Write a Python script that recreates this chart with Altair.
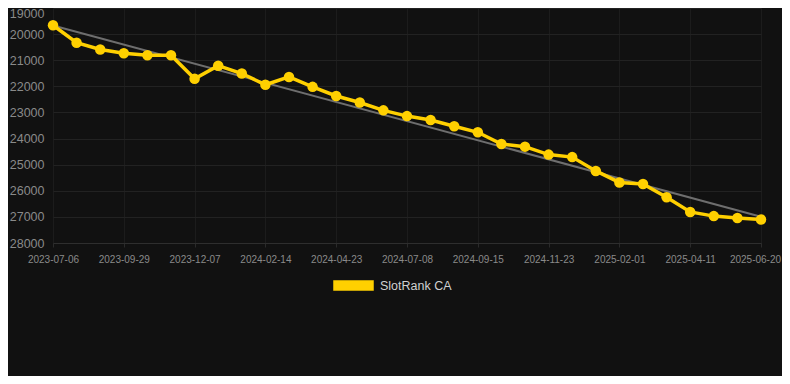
import altair as alt
import pandas as pd

dates = [
    "2023-07-06", "2023-08-03", "2023-09-01", "2023-09-29", "2023-10-22", "2023-11-14",
    "2023-12-07", "2023-12-30", "2024-01-22", "2024-02-14", "2024-03-08", "2024-03-31",
    "2024-04-23", "2024-05-18", "2024-06-12", "2024-07-08", "2024-07-31", "2024-08-23",
    "2024-09-15", "2024-10-11", "2024-10-28", "2024-11-23", "2024-12-16", "2025-01-08",
    "2025-02-01", "2025-02-24", "2025-03-19", "2025-04-11", "2025-05-04", "2025-05-27",
    "2025-06-20",
]
ranks = [
    19660, 20330, 20590, 20730, 20810, 20810,
    21710, 21210, 21510, 21940, 21640, 22020,
    22370, 22620, 22920, 23140, 23290, 23530,
    23760, 24210, 24310, 24615, 24710, 25240,
    25680, 25740, 26250, 26810, 26970, 27040,
    27100,
]
label_dates = dates[::3]
y_ticks = list(range(19000, 28001, 1000))
series_name = "SlotRank CA"

df = pd.DataFrame({"date": dates, "rank": ranks, "i": list(range(len(dates))), "series": series_name})

FONT = "Liberation Sans"
GOLD = "#FFD000"

y_scale = alt.Scale(domain=[19000, 28000], reverse=True, nice=False, zero=False)
y_axis = alt.Axis(
    values=y_ticks, format="d", title=None, ticks=False, domain=False, labelPadding=9,
    labelFontSize=12.5, labelColor="#8a8a8a", labelFont=FONT, labelOverlap=False,
    labelBound=False, gridColor="#222222", gridWidth=1,
    labelOffset={"condition": {"test": "datum.value === 19000", "value": 5}, "value": 0},
)

x_axis = alt.Axis(
    values=label_dates, title=None, labelAngle=0, labelFontSize=10,
    labelColor="#8a8a8a", labelFont=FONT, labelPadding=7, tickSize=4,
    tickColor="#2a2a2a", domainColor="#2e2e2e", grid=True,
    gridColor="#1c1c1c", labelOverlap=False,
    labelOffset={"condition": {"test": "datum.value === '2025-06-20'", "value": -6}, "value": 0},
)
x_scale = alt.Scale(type="point", padding=0)

base = alt.Chart(df)

trend = base.transform_regression("i", "rank", method="linear").mark_line(
    color="#6e6e6e", strokeWidth=2
).encode(
    x=alt.X("i:Q", scale=alt.Scale(domain=[0, len(dates) - 1], nice=False, zero=False), axis=None),
    y=alt.Y("rank:Q", scale=y_scale, axis=y_axis),
)

line = base.mark_line(strokeWidth=3.5).encode(
    x=alt.X("date:O", sort=dates, scale=x_scale, axis=x_axis),
    y=alt.Y("rank:Q", scale=y_scale, axis=y_axis),
    color=alt.Color(
        "series:N",
        scale=alt.Scale(domain=[series_name], range=[GOLD]),
        legend=alt.Legend(
            title=None, orient="none", legendX=280, legendY=257, direction="horizontal",
            symbolType="M-1,-0.25H1V0.25H-1Z", symbolSize=1600,
            symbolFillColor=GOLD, symbolStrokeColor=GOLD, symbolStrokeWidth=0.5,
            labelFontSize=12.5, labelColor="#d0d0d0", labelFont=FONT, padding=0,
            labelOffset=6,
        ),
    ),
)

points = base.mark_point(filled=True, size=110, opacity=1, color=GOLD).encode(
    x=alt.X("date:O", sort=dates, scale=x_scale, axis=x_axis),
    y=alt.Y("rank:Q", scale=y_scale, axis=y_axis),
)

main = alt.layer(line, points)

chart = alt.layer(trend, main).resolve_scale(x="independent").properties(
    width=708,
    height=235,
    padding={"left": 45, "top": 0, "right": 21, "bottom": 133},
    autosize=alt.AutoSizeParams(type="none"),
    background="#111111",
).configure_view(stroke=None)

chart.save("out.html", embed_options={"renderer": "svg", "actions": False})
